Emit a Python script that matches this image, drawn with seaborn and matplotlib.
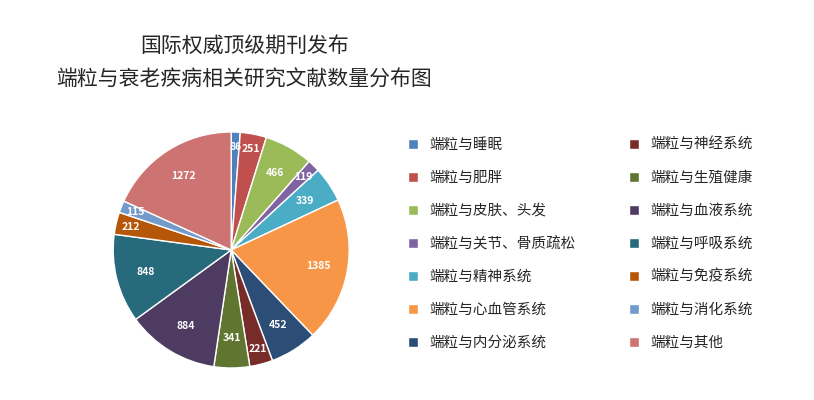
import matplotlib
matplotlib.use("Agg")
import matplotlib.pyplot as plt
import seaborn as sns
import numpy as np

sns.set_style("white")
plt.rcParams['font.family'] = ['Noto Sans CJK SC', 'DejaVu Sans']

labels = ['端粒与睡眠', '端粒与肥胖', '端粒与皮肤、头发', '端粒与关节、骨质疏松', '端粒与精神系统',
          '端粒与心血管系统', '端粒与内分泌系统', '端粒与神经系统', '端粒与生殖健康', '端粒与血液系统',
          '端粒与呼吸系统', '端粒与免疫系统', '端粒与消化系统', '端粒与其他']
counts = [86, 251, 466, 119, 339, 1385, 452, 221, 341, 884, 848, 212, 115, 1272]
colors = ['#4F81BD', '#C0504D', '#9BBB59', '#8064A2', '#4BACC6', '#F79646', '#2C4D75',
          '#772C2A', '#5F7530', '#4D3B62', '#276A7C', '#B65708', '#729ACA', '#CD7371']

fig = plt.figure(figsize=(8.14, 4.0), dpi=100)
ax = fig.add_axes([0.139, 0.08, 0.29, 0.59])
wedges, texts = ax.pie(counts, colors=colors, startangle=90, counterclock=False,
                       wedgeprops=dict(edgecolor='white', linewidth=1))
ax.set_xlim(-1.0, 1.0)
ax.set_ylim(-1.0, 1.0)
ax.set_aspect('equal')

total = sum(counts)
cum = 0
for v in counts:
    mid = 90 - (cum + v / 2) / total * 360
    cum += v
    r = 0.87 if v < 300 else 0.75
    ax.text(r * np.cos(np.radians(mid)), r * np.sin(np.radians(mid)), str(v),
            color='white', fontsize=7.5, fontweight='bold', ha='center', va='center')

fig.text(0.30, 0.885, '国际权威顶级期刊发布', ha='center', va='center', fontsize=15)
fig.text(0.30, 0.80, '端粒与衰老疾病相关研究文献数量分布图', ha='center', va='center', fontsize=15)

fig.legend(wedges, labels, ncol=2, loc='center left', bbox_to_anchor=(0.485, 0.39),
           frameon=False, fontsize=10.5, handlelength=0.7, handleheight=0.7,
           columnspacing=3.6, labelspacing=1.3)

fig.savefig('out.png', dpi=100)
